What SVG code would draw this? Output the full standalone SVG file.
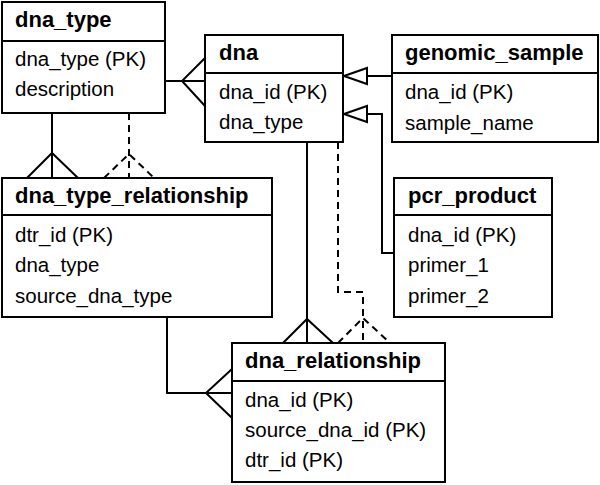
<svg xmlns="http://www.w3.org/2000/svg" width="600" height="485" viewBox="0 0 600 485">
<style>
.box{fill:#fff;stroke:#000;stroke-width:2}
.sep{stroke:#000;stroke-width:2}
.h{font-family:"Liberation Sans",Arial,Helvetica,sans-serif;font-weight:bold;font-size:22px;fill:#000}
.t{font-family:"Liberation Sans",Arial,Helvetica,sans-serif;font-size:20.5px;fill:#000}
.c{fill:none;stroke:#000;stroke-width:2}
.d{fill:none;stroke:#000;stroke-width:2;stroke-dasharray:7,5}
.arr{fill:#fff;stroke:#000;stroke-width:2}
</style>
<rect width="600" height="485" fill="#fff"/>
<g id="connectors">
  <!-- dna_type to dna -->
  <path class="c" d="M165,81 H205 M205,58 L182,81 L205,106"/>
  <!-- dna_type to dna_type_relationship solid -->
  <path class="c" d="M52,113 V178 M27,178 L52,153 L78,178"/>
  <!-- dna_type to dna_type_relationship dashed -->
  <path class="d" d="M129,113 V178 M104,178 L129,154 L154,178"/>
  <!-- dna to dna_relationship solid -->
  <path class="c" d="M307,142 V343 M283,343 L307,319 L333,343"/>
  <!-- dna to dna_relationship dashed -->
  <path class="d" d="M338,142 V292 H363 V343 M338,343 L363,318 L390,343"/>
  <!-- dtr to dna_relationship -->
  <path class="c" d="M167,317 V393 H232 M232,369 L206,393 L232,418"/>
  <!-- genomic_sample to dna -->
  <path class="c" d="M392,76 H367"/>
  <polygon class="arr" points="344,76 367,68 367,84"/>
  <!-- pcr_product to dna -->
  <path class="c" d="M394,253 H382 V114 H367"/>
  <polygon class="arr" points="344,114 367,106 367,122"/>
</g>
<g id="dna_type">
  <rect class="box" x="2" y="2" width="163" height="111"/>
  <line class="sep" x1="2" y1="41" x2="165" y2="41"/>
  <text class="h" x="15" y="27">dna_type</text>
  <text class="t" x="15" y="66">dna_type (PK)</text>
  <text class="t" x="15" y="96">description</text>
</g>
<g id="dna">
  <rect class="box" x="205" y="35" width="138" height="107"/>
  <line class="sep" x1="205" y1="73" x2="343" y2="73"/>
  <text class="h" x="219" y="60">dna</text>
  <text class="t" x="219" y="99">dna_id (PK)</text>
  <text class="t" x="219" y="129">dna_type</text>
</g>
<g id="genomic_sample">
  <rect class="box" x="392" y="35" width="206" height="107"/>
  <line class="sep" x1="392" y1="73" x2="598" y2="73"/>
  <text class="h" x="405" y="60">genomic_sample</text>
  <text class="t" x="405" y="99">dna_id (PK)</text>
  <text class="t" x="405" y="130">sample_name</text>
</g>
<g id="dna_type_relationship">
  <rect class="box" x="2" y="178" width="270" height="139"/>
  <line class="sep" x1="2" y1="215" x2="272" y2="215"/>
  <text class="h" x="15" y="203">dna_type_relationship</text>
  <text class="t" x="15" y="242">dtr_id (PK)</text>
  <text class="t" x="15" y="272">dna_type</text>
  <text class="t" x="15" y="303">source_dna_type</text>
</g>
<g id="pcr_product">
  <rect class="box" x="394" y="178" width="158" height="139"/>
  <line class="sep" x1="394" y1="215" x2="552" y2="215"/>
  <text class="h" x="408" y="203">pcr_product</text>
  <text class="t" x="408" y="242">dna_id (PK)</text>
  <text class="t" x="408" y="272">primer_1</text>
  <text class="t" x="408" y="303">primer_2</text>
</g>
<g id="dna_relationship">
  <rect class="box" x="232" y="343" width="213" height="139"/>
  <line class="sep" x1="232" y1="381" x2="445" y2="381"/>
  <text class="h" x="245" y="368">dna_relationship</text>
  <text class="t" x="245" y="407">dna_id (PK)</text>
  <text class="t" x="245" y="437">source_dna_id (PK)</text>
  <text class="t" x="245" y="467">dtr_id (PK)</text>
</g>
</svg>
